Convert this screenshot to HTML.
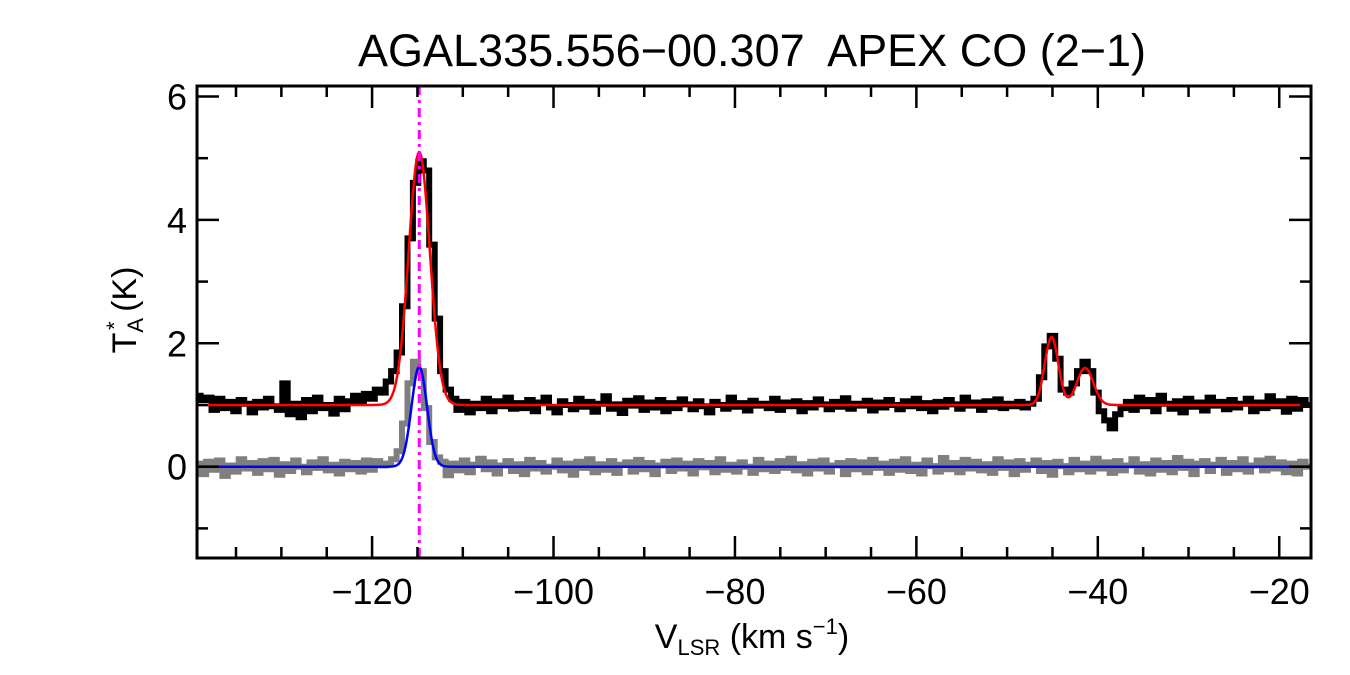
<!DOCTYPE html>
<html><head><meta charset="utf-8">
<style>
html,body{margin:0;padding:0;background:#fff;}
svg{display:block;font-family:"Liberation Sans",sans-serif;}
</style></head>
<body>
<svg id="chart" width="1350" height="675" viewBox="0 0 1350 675">
<text x="752" y="66" font-size="45" text-anchor="middle">AGAL335.556−00.307&#160; APEX CO (2−1)</text>
<text x="752" y="648" font-size="34" text-anchor="middle">V<tspan font-size="22" dy="7">LSR</tspan><tspan dy="-7"> (km s</tspan><tspan font-size="22" dy="-14">−1</tspan><tspan dy="14">)</tspan></text>
<text transform="translate(136,310) rotate(-90)" font-size="34" text-anchor="middle">T<tspan font-size="22" dy="7">A</tspan><tspan font-size="22" dx="-12" dy="-21">*</tspan><tspan dy="14"> (K)</tspan></text>
<g id="plot"></g>
</svg>
<script>
const vStart = -139.2, dv = 0.6;
const blackSpec = [1.15,1.08,1.12,0.92,1.10,0.95,1.05,0.90,1.08,1.02,
0.88,1.05,0.96,1.10,0.98,0.92,1.35,0.85,1.02,0.80,
1.08,0.90,1.12,0.95,1.00,0.86,1.10,0.93,1.06,1.15,
1.05,1.18,1.10,1.25,1.20,1.38,
1.55,1.85,2.60,3.70,4.60,4.95,4.80,3.60,2.40,1.55,1.25,
1.10,0.92,1.05,0.88,1.02,0.95,1.10,0.90,1.06,0.98,1.12,0.94,1.03,
0.95,1.08,0.90,1.04,1.12,0.96,0.88,1.06,1.00,0.93,
1.10,0.97,1.05,0.89,1.02,1.14,0.94,1.01,0.87,1.07,
0.99,1.11,0.92,1.04,0.96,1.08,0.90,1.03,0.95,1.09,
1.01,0.93,1.06,0.98,0.88,1.05,1.00,0.94,1.12,0.97,
1.03,0.91,1.07,0.99,1.02,0.95,1.10,0.92,1.04,0.98,
1.06,0.90,1.03,0.96,1.09,1.01,0.93,1.05,0.97,1.11,
0.94,1.02,0.99,1.07,0.91,1.04,0.96,1.08,1.00,0.93,
1.06,0.98,1.10,0.95,1.03,0.90,1.05,0.97,1.08,1.01,
0.94,1.12,0.99,1.04,0.92,1.06,0.97,1.09,0.95,1.02,
0.98,1.05,0.96,
1.02,1.10,1.45,1.95,2.12,1.75,1.25,1.20,1.35,1.55,1.70,1.55,1.20,0.90,0.75,0.62,0.85,0.95,
1.05,0.92,1.12,0.98,1.08,0.90,1.15,1.02,0.94,1.06,
0.88,1.10,0.97,1.04,0.91,1.12,0.99,1.05,0.93,1.08,
0.96,1.02,1.10,0.90,1.04,0.95,1.14,0.98,1.06,0.89,
1.10,0.94,1.08,1.00];
const graySpec = [0.05,-0.12,0.08,-0.05,0.10,-0.15,0.02,-0.08,0.12,-0.03,
0.06,-0.10,0.09,-0.04,0.11,-0.13,0.04,-0.07,0.10,0.00,
-0.09,0.07,-0.02,0.12,-0.06,0.03,-0.11,0.08,-0.04,0.06,
-0.08,0.10,-0.05,0.09,0.02,0.05,0.12,
0.25,0.70,1.35,1.70,1.55,0.95,0.40,0.15,
0.08,-0.14,0.05,-0.06,0.10,-0.09,0.03,0.13,-0.04,0.07,
-0.11,0.02,0.09,-0.07,0.04,-0.12,0.11,-0.03,0.06,-0.08,
0.00,0.10,-0.06,0.05,-0.13,0.08,-0.02,0.12,-0.09,0.04,
-0.05,0.09,-0.10,0.03,0.07,-0.08,0.11,-0.04,0.06,-0.12,
0.02,0.08,-0.07,0.10,-0.03,0.05,-0.11,0.09,-0.01,0.06,
-0.09,0.12,-0.05,0.03,-0.08,0.07,0.00,-0.10,0.11,-0.04,
0.05,-0.07,0.09,-0.02,0.13,-0.06,0.04,-0.11,0.08,-0.03,
0.10,-0.08,0.02,0.06,-0.12,0.09,-0.04,0.07,-0.09,0.11,
-0.02,0.05,-0.10,0.08,-0.05,0.12,-0.07,0.03,-0.11,0.10,
0.01,-0.08,0.14,-0.04,0.06,-0.09,0.11,-0.03,0.08,-0.06,
0.04,-0.10,0.12,-0.02,0.07,-0.12,0.09,-0.05,0.03,0.10,
-0.07,0.06,-0.13,0.08,0.01,-0.09,0.11,-0.04,0.05,-0.08,
0.13,-0.03,0.07,-0.10,0.09,-0.06,0.02,0.12,-0.08,0.04,
-0.11,0.10,-0.05,0.06,-0.09,0.14,-0.02,0.08,-0.12,0.05,
0.09,-0.07,0.03,0.11,-0.10,0.06,-0.04,0.12,-0.08,0.02,
0.10,-0.06,0.13,-0.03,0.07,-0.09,0.05,-0.11,0.08,0.00];
const redBaseline = 1.0;
const redCenters = [-114.8, -45.1, -41.4];
const redAmps = [4.1, 1.1, 0.6];
const redSigmas = [1.17, 0.75, 0.9];
const blueBaseline = 0.0;
const blueCenters = [-114.8];
const blueAmps = [1.62];
const blueSigmas = [0.85];
const markerVel = -114.8;
const xMajorTicks = [-120,-100,-80,-60,-40,-20];
const xTickLabels = ["−120","−100","−80","−60","−40","−20"];
const yMajorTicks = [0,2,4,6];
const yTickLabels = ["0","2","4","6"];

const L=197,R=1311,T=86,B=558;
const xMin=-139.3,xMax=-16.5,yMin=-1.48,yMax=6.17;
const X=v=>L+(v-xMin)/(xMax-xMin)*(R-L);
const Y=t=>B-(t-yMin)/(yMax-yMin)*(B-T);
const NS="http://www.w3.org/2000/svg";
const g=document.getElementById('plot');
function mk(tag,attrs){const e=document.createElementNS(NS,tag);for(const k in attrs)e.setAttribute(k,attrs[k]);g.appendChild(e);return e;}

const clip=document.createElementNS(NS,'clipPath');clip.setAttribute('id','pc');
const cr=document.createElementNS(NS,'rect');cr.setAttribute('x',L);cr.setAttribute('y',T);cr.setAttribute('width',R-L);cr.setAttribute('height',B-T);
clip.appendChild(cr);g.appendChild(clip);

function stepPath(arr){let d='';arr.forEach((t,i)=>{const v=vStart+dv*i;const x0=X(v-dv/2),x1=X(v+dv/2),y=Y(t);d+=(i?'L':'M')+x0.toFixed(1)+','+y.toFixed(1)+'L'+x1.toFixed(1)+','+y.toFixed(1);});return d;}
function fitPath(base,cs,as,ss){let d='';for(let px=L;px<=R;px+=1){const v=xMin+(px-L)/(R-L)*(xMax-xMin);let t=base;for(let k=0;k<cs.length;k++)t+=as[k]*Math.exp(-0.5*Math.pow((v-cs[k])/ss[k],2));d+=(px===L?'M':'L')+px+','+Y(t).toFixed(1);}return d;}

let e;
e=mk('path',{d:stepPath(graySpec),fill:'none',stroke:'#7f7f7f','stroke-width':6,'clip-path':'url(#pc)'});


e=mk('path',{d:stepPath(blackSpec),fill:'none',stroke:'#000','stroke-width':6,'clip-path':'url(#pc)'});


e=mk('path',{d:fitPath(blueBaseline,blueCenters,blueAmps,blueSigmas),fill:'none',stroke:'#0000ff','stroke-width':2.5});


e=mk('path',{d:fitPath(redBaseline,redCenters,redAmps,redSigmas),fill:'none',stroke:'#ff0000','stroke-width':2.5});


e=mk('line',{x1:X(markerVel),x2:X(markerVel),y1:T,y2:B,stroke:'#ff00ff','stroke-width':3,'stroke-dasharray':'9,5,3,5'});



e=mk('rect',{x:L,y:T,width:R-L,height:B-T,fill:'none',stroke:'#000','stroke-width':3});



for(let v=-135;v<=xMax;v+=5){const x=X(v);const major=xMajorTicks.includes(v);const len=major?22:11;
 e=mk('line',{x1:x,x2:x,y1:B,y2:B-len,stroke:'#000','stroke-width':2.5});
 
 
 e=mk('line',{x1:x,x2:x,y1:T,y2:T+len,stroke:'#000','stroke-width':2.5});
 
 }
xMajorTicks.forEach((v,i)=>{e=mk('text',{x:X(v),y:604,'font-size':36,'text-anchor':'middle'});e.textContent=xTickLabels[i];
 
 });
for(let t=-1;t<=6;t+=1){const y=Y(t);const major=yMajorTicks.includes(t);const len=major?22:11;
 e=mk('line',{x1:L,x2:L+len,y1:y,y2:y,stroke:'#000','stroke-width':2.5});
 
 
 e=mk('line',{x1:R,x2:R-len,y1:y,y2:y,stroke:'#000','stroke-width':2.5});
 
 }
yMajorTicks.forEach((t,i)=>{e=mk('text',{x:187,y:Y(t)+13,'font-size':36,'text-anchor':'end'});e.textContent=yTickLabels[i];
 
 });
</script>
</body></html>
